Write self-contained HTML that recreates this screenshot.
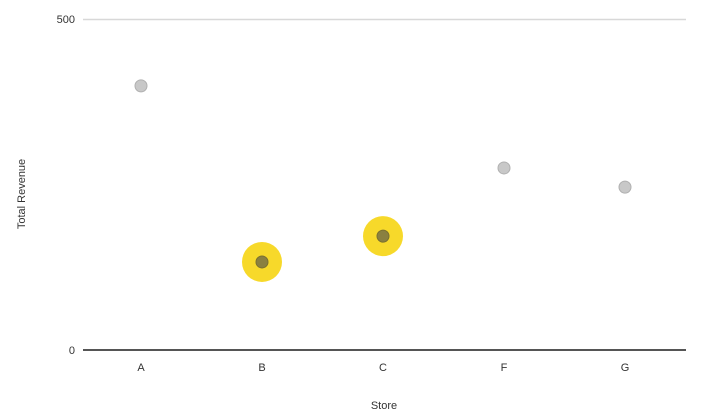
<!DOCTYPE html>
<html><head><meta charset="utf-8"><style>
html,body{margin:0;padding:0;background:#fff;width:705px;height:419px;overflow:hidden}
svg{display:block;font-family:"Liberation Sans",sans-serif}
</style></head><body>
<svg id="chart" width="705" height="419">
<line x1="83" x2="686" y1="19.5" y2="19.5" stroke="#d8d8d8" stroke-width="1.5"/>
<line x1="83" x2="686" y1="350" y2="350" stroke="#555" stroke-width="2"/>
<text x="75" y="23" text-anchor="end" font-size="11" fill="#333">500</text>
<text x="75" y="354" text-anchor="end" font-size="11" fill="#333">0</text>
<text transform="translate(25,194) rotate(-90)" text-anchor="middle" font-size="11" fill="#333">Total Revenue</text>
<text x="384" y="409" text-anchor="middle" font-size="11" fill="#333">Store</text>
<g id="marks"></g>
</svg>
<script>
const categories=["A","B","C","F","G"];
const values=[399,133,172,275,246];
const highlighted=[false,true,true,false,false];
const yMin=0,yMax=500;
function xPos(i){return 141+i*121;}
function yPos(v){return 350-(v-yMin)/(yMax-yMin)*331;}
const ns="http://www.w3.org/2000/svg";
const g=document.getElementById("marks");
categories.forEach((c,i)=>{
  const t=document.createElementNS(ns,"text");
  t.setAttribute("x",xPos(i));t.setAttribute("y",371);
  t.setAttribute("text-anchor","middle");t.setAttribute("font-size","11");t.setAttribute("fill","#333");
  t.textContent=c;
  
  
  g.appendChild(t);
  const x=xPos(i),y=yPos(values[i]);
  if(highlighted[i]){
    const h=document.createElementNS(ns,"circle");
    h.setAttribute("cx",x);h.setAttribute("cy",y);h.setAttribute("r",20);
    h.setAttribute("fill","#f7d92a");
    
    
    g.appendChild(h);
  }
  const p=document.createElementNS(ns,"circle");
  p.setAttribute("cx",x);p.setAttribute("cy",y);p.setAttribute("r",6);
  p.setAttribute("fill",highlighted[i]?"#8a8040":"#c8c8c8");
  p.setAttribute("stroke",highlighted[i]?"#7a7030":"#b0b0b0");
  
  
  g.appendChild(p);
});
</script>
</body></html>
